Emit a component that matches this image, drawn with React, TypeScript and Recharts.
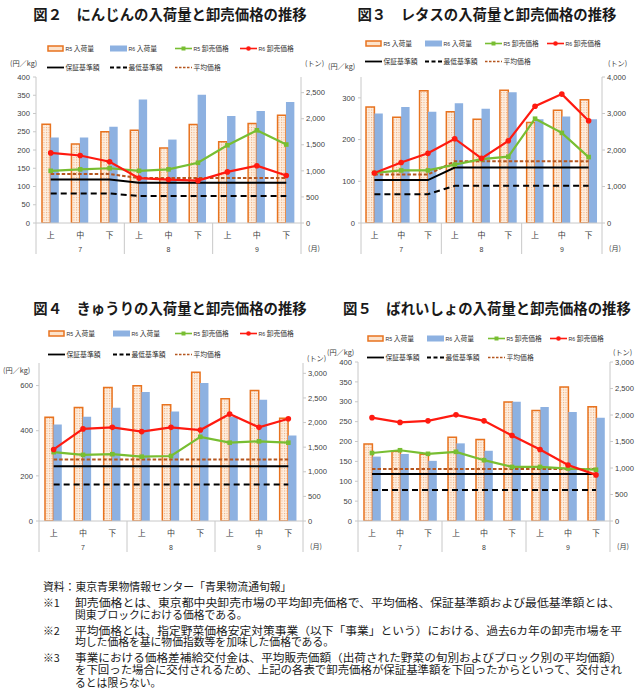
import React from 'react';
import { ComposedChart, Bar, Line, XAxis, YAxis } from 'recharts';

// ---------- data ----------
const periods = ['上', '中', '下', '上', '中', '下', '上', '中', '下'];
const monthLabels = ['7', '8', '9'];

// 図2 にんじん
const carrotR5Vol = [1895, 1515, 1750, 1780, 1440, 1890, 1560, 1910, 2065];
const carrotR6Vol = [1640, 1640, 1845, 2370, 1600, 2460, 2050, 2150, 2320];
const carrotR5Price = [143, 147, 150, 143, 147, 165, 213, 254, 215];
const carrotR6Price = [192, 185, 168, 123, 119, 116, 140, 157, 130];
const carrotAvg = [134, 134, 134, 123, 123, 123, 123, 123, 123];
const carrotGuarantee = [119, 119, 119, 110, 110, 110, 110, 110, 110];
const carrotMin = [81, 81, 81, 74, 74, 74, 74, 74, 74];

// 図3 レタス
const lettuceR5Vol = [3180, 2900, 3620, 3045, 2845, 3640, 2755, 3090, 3375];
const lettuceR6Vol = [3000, 3180, 3045, 3280, 3130, 3580, 2840, 2920, 2845];
const lettuceR5Price = [120, 126, 126, 140, 153, 159, 250, 216, 158];
const lettuceR6Price = [120, 145, 167, 202, 155, 197, 280, 309, 245];
const lettuceAvg = [116, 116, 116, 148, 148, 148, 148, 148, 148];
const lettuceGuarantee = [103, 103, 103, 133, 133, 133, 133, 133, 133];
const lettuceMin = [69, 69, 69, 89, 89, 89, 89, 89, 89];

// 図4 きゅうり
const cucumberR5Vol = [2110, 2305, 2710, 2750, 2360, 3020, 2485, 2650, 2090];
const cucumberR6Vol = [1960, 2120, 2300, 2620, 2225, 2805, 2120, 2465, 1735];
const cucumberR5Price = [305, 293, 296, 285, 288, 373, 347, 353, 347];
const cucumberR6Price = [317, 408, 415, 396, 415, 403, 474, 415, 453];
const cucumberAvg = [272, 272, 272, 272, 272, 272, 272, 272, 272];
const cucumberGuarantee = [243, 243, 243, 243, 243, 243, 243, 243, 243];
const cucumberMin = [162, 162, 162, 162, 162, 162, 162, 162, 162];

// 図5 ばれいしょ
const potatoR5Vol = [1455, 1315, 1260, 1580, 1540, 2245, 2085, 2530, 2155];
const potatoR6Vol = [1215, 1265, 1135, 1465, 1325, 2250, 2150, 2055, 1950];
const potatoR5Price = [171, 178, 169, 174, 153, 136, 136, 132, 129];
const potatoR6Price = [260, 248, 252, 267, 252, 215, 180, 141, 116];
const potatoAvg = [131, 131, 131, 131, 131, 131, 131, 131, 131];
const potatoGuarantee = [118, 118, 118, 118, 118, 118, 118, 118, 118];
const potatoMin = [78, 78, 78, 78, 78, 78, 78, 78, 78];

const carrotTicksL = [0, 50, 100, 150, 200, 250, 300, 350, 400];
const carrotTicksR = [0, 500, 1000, 1500, 2000, 2500];
const lettuceTicksL = [0, 100, 200, 300];
const lettuceTicksR = [0, 1000, 2000, 3000, 4000];
const cucumberTicksL = [0, 200, 400, 600];
const cucumberTicksR = [0, 500, 1000, 1500, 2000, 2500, 3000];
const potatoTicksL = [0, 50, 100, 150, 200, 250, 300, 350, 400];
const potatoTicksR = [0, 500, 1000, 1500, 2000, 2500, 3000];

const noteLines = [
  '資料：東京青果物情報センター「青果物流通旬報」',
  '卸売価格とは、東京都中央卸売市場の平均卸売価格で、平均価格、保証基準額および最低基準額とは、',
  '関東ブロックにおける価格である。',
  '平均価格とは、指定野菜価格安定対策事業（以下「事業」という）における、過去6カ年の卸売市場を平',
  '均した価格を基に物価指数等を加味した価格である。',
  '事業における価格差補給交付金は、平均販売価額（出荷された野菜の旬別およびブロック別の平均価額）',
  'を下回った場合に交付されるため、上記の各表で卸売価格が保証基準額を下回ったからといって、交付され',
  'るとは限らない。',
];
const noteMarks = ['※1', '※2', '※3'];

// ---------- style ----------
const FONT = '"Noto Sans CJK JP", "Noto Sans", sans-serif';
const NUMFONT = '"Liberation Sans", Arial, sans-serif';
const ORANGE = '#E8731F';
const BLUE = '#8DB1E1';
const GREEN = '#78BE32';
const RED = '#FF1A10';
const BROWN = '#B5561F';
const AXIS = '#C8C8C8';
const TXT = '#404040';

type Cfg = {
  id: string;
  title: string;
  titleX: number;
  titleY: number;
  x0: number; x1: number; y0: number; y1: number;
  lDom: [number, number]; lTicks: number[];
  rDom: [number, number]; rTicks: number[];
  legX: number[]; legY: [number, number];
  yen: [number, number]; ton: [number, number];
  r5Vol: number[]; r6Vol: number[]; r5Price: number[]; r6Price: number[];
  avg: number[]; guarantee: number[]; min: number[];
};

const panels: Cfg[] = [
  {
    id: 'c2', title: '図２　にんじんの入荷量と卸売価格の推移', titleX: 170, titleY: 14,
    x0: 36, x1: 301, y0: 77, y1: 223,
    lDom: [0, 400], lTicks: carrotTicksL, rDom: [0, 2800], rTicks: carrotTicksR,
    legX: [47, 110, 175, 240], legY: [48, 67], yen: [10, 63], ton: [305, 63],
    r5Vol: carrotR5Vol, r6Vol: carrotR6Vol, r5Price: carrotR5Price, r6Price: carrotR6Price,
    avg: carrotAvg, guarantee: carrotGuarantee, min: carrotMin,
  },
  {
    id: 'c3', title: '図３　レタスの入荷量と卸売価格の推移', titleX: 487, titleY: 14,
    x0: 361, x1: 602, y0: 77, y1: 223,
    lDom: [0, 350], lTicks: lettuceTicksL, rDom: [0, 4000], rTicks: lettuceTicksR,
    legX: [365, 425, 485, 547], legY: [43, 61], yen: [328, 66], ton: [608, 63],
    r5Vol: lettuceR5Vol, r6Vol: lettuceR6Vol, r5Price: lettuceR5Price, r6Price: lettuceR6Price,
    avg: lettuceAvg, guarantee: lettuceGuarantee, min: lettuceMin,
  },
  {
    id: 'c4', title: '図４　きゅうりの入荷量と卸売価格の推移', titleX: 170, titleY: 308,
    x0: 39, x1: 303, y0: 363, y1: 521,
    lDom: [0, 700], lTicks: cucumberTicksL, rDom: [0, 3210], rTicks: cucumberTicksR,
    legX: [48, 113, 175, 240], legY: [333, 354], yen: [3, 370], ton: [307, 358],
    r5Vol: cucumberR5Vol, r6Vol: cucumberR6Vol, r5Price: cucumberR5Price, r6Price: cucumberR6Price,
    avg: cucumberAvg, guarantee: cucumberGuarantee, min: cucumberMin,
  },
  {
    id: 'c5', title: '図５　ばれいしょの入荷量と卸売価格の推移', titleX: 487, titleY: 308,
    x0: 358, x1: 610, y0: 362, y1: 521,
    lDom: [0, 400], lTicks: potatoTicksL, rDom: [0, 3000], rTicks: potatoTicksR,
    legX: [367, 427, 488, 550], legY: [338, 357], yen: [327, 352], ton: [613, 352],
    r5Vol: potatoR5Vol, r6Vol: potatoR6Vol, r5Price: potatoR5Price, r6Price: potatoR6Price,
    avg: potatoAvg, guarantee: potatoGuarantee, min: potatoMin,
  },
];

const PAD_L = 40, PAD_R = 40, PAD_T = 10, PAD_B = 40;

const fmt = (v: number) => v.toLocaleString('en-US');

function LegendItem({ x, y, kind, r, label }: { x: number; y: number; kind: string; r?: string; label: string }) {
  let sw: React.ReactNode = null;
  if (kind === 'r5bar') {
    sw = <rect x={1} y={2} width={15} height={5} fill="#FCE3CC" stroke={ORANGE} strokeWidth={1.5} />;
  } else if (kind === 'r6bar') {
    sw = <rect x={0} y={1.5} width={17} height={6} fill={BLUE} />;
  } else if (kind === 'green') {
    sw = (
      <g>
        <line x1={0} x2={17} y1={4.5} y2={4.5} stroke={GREEN} strokeWidth={1.6} />
        <rect x={6.5} y={2.5} width={4} height={4} fill={GREEN} />
      </g>
    );
  } else if (kind === 'red') {
    sw = (
      <g>
        <line x1={0} x2={17} y1={4.5} y2={4.5} stroke={RED} strokeWidth={1.6} />
        <circle cx={8.5} cy={4.5} r={2.3} fill={RED} />
      </g>
    );
  } else if (kind === 'guar') {
    sw = <line x1={0} x2={17} y1={4.5} y2={4.5} stroke="#000" strokeWidth={1.8} />;
  } else if (kind === 'min') {
    sw = <line x1={0} x2={17} y1={4.5} y2={4.5} stroke="#000" strokeWidth={1.8} strokeDasharray="4 2.5" />;
  } else if (kind === 'avg') {
    sw = <line x1={0} x2={17} y1={4.5} y2={4.5} stroke={BROWN} strokeWidth={1.6} strokeDasharray="2.5 1.5" />;
  }
  return (
    <div style={{ position: 'absolute', left: x, top: y - 5, height: 10, display: 'flex', alignItems: 'center', whiteSpace: 'nowrap' }}>
      <svg width={17} height={9} style={{ display: 'block' }}>{sw}</svg>
      <span style={{ marginLeft: 1.5, fontFamily: FONT, fontSize: 6.8, color: '#303030', lineHeight: '10px' }}>
        {r ? <span style={{ fontSize: 5.2, marginRight: 1.5, fontFamily: NUMFONT }}>{r}</span> : null}
        {label}
      </span>
    </div>
  );
}

function Panel({ c }: { c: Cfg }) {
  const W = c.x1 - c.x0 + PAD_L + PAD_R;
  const H = c.y1 - c.y0 + PAD_T + PAD_B;
  const pb = H - PAD_B;
  const band = (c.x1 - c.x0) / periods.length;
  const data = periods.map((p, i) => ({
    key: monthLabels[Math.floor(i / 3)] + p,
    r5Vol: c.r5Vol[i],
    r6Vol: c.r6Vol[i],
    r5Price: c.r5Price[i],
    r6Price: c.r6Price[i],
    avg: c.avg[i],
    guarantee: c.guarantee[i],
    min: c.min[i],
  }));
  const pid = 'pat-' + c.id;

  const xTick = (props: any) => {
    const { x, index } = props;
    return (
      <g>
        <text x={x} y={pb + 11} textAnchor="middle" dominantBaseline="central" fontSize={8} fill={TXT} fontFamily={FONT}>
          {periods[index]}
        </text>
        {index % 3 === 1 ? (
          <text x={x} y={pb + 26} textAnchor="middle" dominantBaseline="central" fontSize={7} fill={TXT} fontFamily={NUMFONT}>
            {monthLabels[(index - 1) / 3]}
          </text>
        ) : null}
        {index % 3 === 0 ? (
          <line x1={x - band / 2} x2={x - band / 2} y1={pb} y2={pb + 31} stroke={AXIS} strokeWidth={1} />
        ) : null}
        {index === periods.length - 1 ? (
          <line x1={x + band / 2} x2={x + band / 2} y1={pb} y2={pb + 31} stroke={AXIS} strokeWidth={1} />
        ) : null}
      </g>
    );
  };

  const greenDot = (p: any) => (
    <rect key={'g' + p.index} x={p.cx - 2.3} y={p.cy - 2.3} width={4.6} height={4.6} fill={GREEN} />
  );
  const redDot = (p: any) => <circle key={'r' + p.index} cx={p.cx} cy={p.cy} r={2.8} fill={RED} />;

  const lx = c.legX;
  const ly = c.legY;
  const smallText: React.CSSProperties = { position: 'absolute', fontFamily: FONT, fontSize: 7.2, lineHeight: '12px', color: TXT, whiteSpace: 'nowrap' };

  return (
    <>
      <div
        style={{
          position: 'absolute', left: c.titleX - 160, width: 320, top: c.titleY - 10, height: 20,
          textAlign: 'center', fontFamily: FONT, fontWeight: 700, fontSize: 14.4, lineHeight: '20px', color: '#1a1a1a', whiteSpace: 'nowrap',
        }}
      >
        {c.title}
      </div>
      <LegendItem x={lx[0]} y={ly[0]} kind="r5bar" r="R5" label="入荷量" />
      <LegendItem x={lx[1]} y={ly[0]} kind="r6bar" r="R6" label="入荷量" />
      <LegendItem x={lx[2]} y={ly[0]} kind="green" r="R5" label="卸売価格" />
      <LegendItem x={lx[3]} y={ly[0]} kind="red" r="R6" label="卸売価格" />
      <LegendItem x={lx[0]} y={ly[1]} kind="guar" label="保証基準額" />
      <LegendItem x={lx[1]} y={ly[1]} kind="min" label="最低基準額" />
      <LegendItem x={lx[2]} y={ly[1]} kind="avg" label="平均価格" />
      <div style={{ ...smallText, left: c.yen[0], top: c.yen[1] - 6 }}>(円／kg)</div>
      <div style={{ ...smallText, left: c.ton[0], top: c.ton[1] - 6 }}>(トン)</div>
      <div style={{ ...smallText, left: c.x1 + 7, top: c.y1 + 19 }}>(月)</div>
      <div style={{ position: 'absolute', left: c.x0 - PAD_L, top: c.y0 - PAD_T }}>
        <ComposedChart
          width={W}
          height={H}
          data={data}
          margin={{ top: PAD_T, right: 0, bottom: 0, left: 0 }}
          barGap={0}
          barSize={8.4}
          style={{ overflow: 'visible' }}
        >
          <defs>
            <pattern id={pid} width={2.5} height={2.5} patternUnits="userSpaceOnUse">
              <rect width={2.5} height={2.5} fill="#FDEEDF" />
              <rect x={0} y={0} width={1} height={1} fill="#F0A978" />
            </pattern>
          </defs>
          <XAxis
            dataKey="key"
            height={PAD_B}
            interval={0}
            tickLine={false}
            axisLine={{ stroke: AXIS }}
            tick={xTick}
          />
          <YAxis
            yAxisId="left"
            orientation="left"
            width={PAD_L}
            domain={c.lDom}
            ticks={c.lTicks}
            allowDataOverflow
            axisLine={{ stroke: AXIS }}
            tickLine={{ stroke: AXIS }}
            tickSize={3}
            tickMargin={3}
            tick={{ fontSize: 7.6, fill: TXT, fontFamily: NUMFONT }}
          />
          <YAxis
            yAxisId="right"
            orientation="right"
            width={PAD_R}
            domain={c.rDom}
            ticks={c.rTicks}
            allowDataOverflow
            axisLine={{ stroke: AXIS }}
            tickLine={{ stroke: AXIS }}
            tickSize={3}
            tickMargin={2}
            tickFormatter={fmt}
            tick={{ fontSize: 7.6, fill: TXT, fontFamily: NUMFONT }}
          />
          <Bar yAxisId="right" dataKey="r5Vol" fill={`url(#${pid})`} stroke={ORANGE} strokeWidth={1.5} isAnimationActive={false} />
          <Bar yAxisId="right" dataKey="r6Vol" fill={BLUE} isAnimationActive={false} />
          <Line yAxisId="left" dataKey="min" stroke="#000" strokeWidth={2} strokeDasharray="6 4" dot={false} isAnimationActive={false} />
          <Line yAxisId="left" dataKey="guarantee" stroke="#000" strokeWidth={2} dot={false} isAnimationActive={false} />
          <Line yAxisId="left" dataKey="avg" stroke={BROWN} strokeWidth={2} strokeDasharray="3.5 2" dot={false} isAnimationActive={false} />
          <Line yAxisId="left" dataKey="r5Price" stroke={GREEN} strokeWidth={2.2} dot={greenDot} activeDot={false} isAnimationActive={false} />
          <Line yAxisId="left" dataKey="r6Price" stroke={RED} strokeWidth={2.2} dot={redDot} activeDot={false} isAnimationActive={false} />
        </ComposedChart>
      </div>
    </>
  );
}

function Notes() {
  const L = 75;
  const R = 620;
  const ys = [586, 602, 613.5, 629.5, 641, 657, 669, 681.5];
  const widths: (number | undefined)[] = [undefined, R - L, undefined, R - L + 2, undefined, R - L + 2, R - L + 2, undefined];
  return (
    <svg width={640} height={697} style={{ position: 'absolute', left: 0, top: 0, pointerEvents: 'none' }}>
      <g fontFamily={FONT} fontSize={10.8} fill="#1a1a1a">
        <text x={43} y={ys[0]} dominantBaseline="central">{noteLines[0]}</text>
        <text x={43} y={ys[1]} dominantBaseline="central">{noteMarks[0]}</text>
        <text x={43} y={ys[3]} dominantBaseline="central">{noteMarks[1]}</text>
        <text x={43} y={ys[5]} dominantBaseline="central">{noteMarks[2]}</text>
        {noteLines.slice(1).map((t, i) => {
          const w = widths[i + 1];
          return (
            <text
              key={i}
              x={L}
              y={ys[i + 1]}
              dominantBaseline="central"
              {...(w ? { textLength: w, lengthAdjust: 'spacingAndGlyphs' } : {})}
            >
              {t}
            </text>
          );
        })}
      </g>
    </svg>
  );
}

export default function App() {
  return (
    <div style={{ position: 'absolute', left: 0, top: 0, width: 640, height: 697, background: '#fff', overflow: 'hidden' }}>
      {panels.map((c) => (
        <Panel key={c.id} c={c} />
      ))}
      <Notes />
    </div>
  );
}
